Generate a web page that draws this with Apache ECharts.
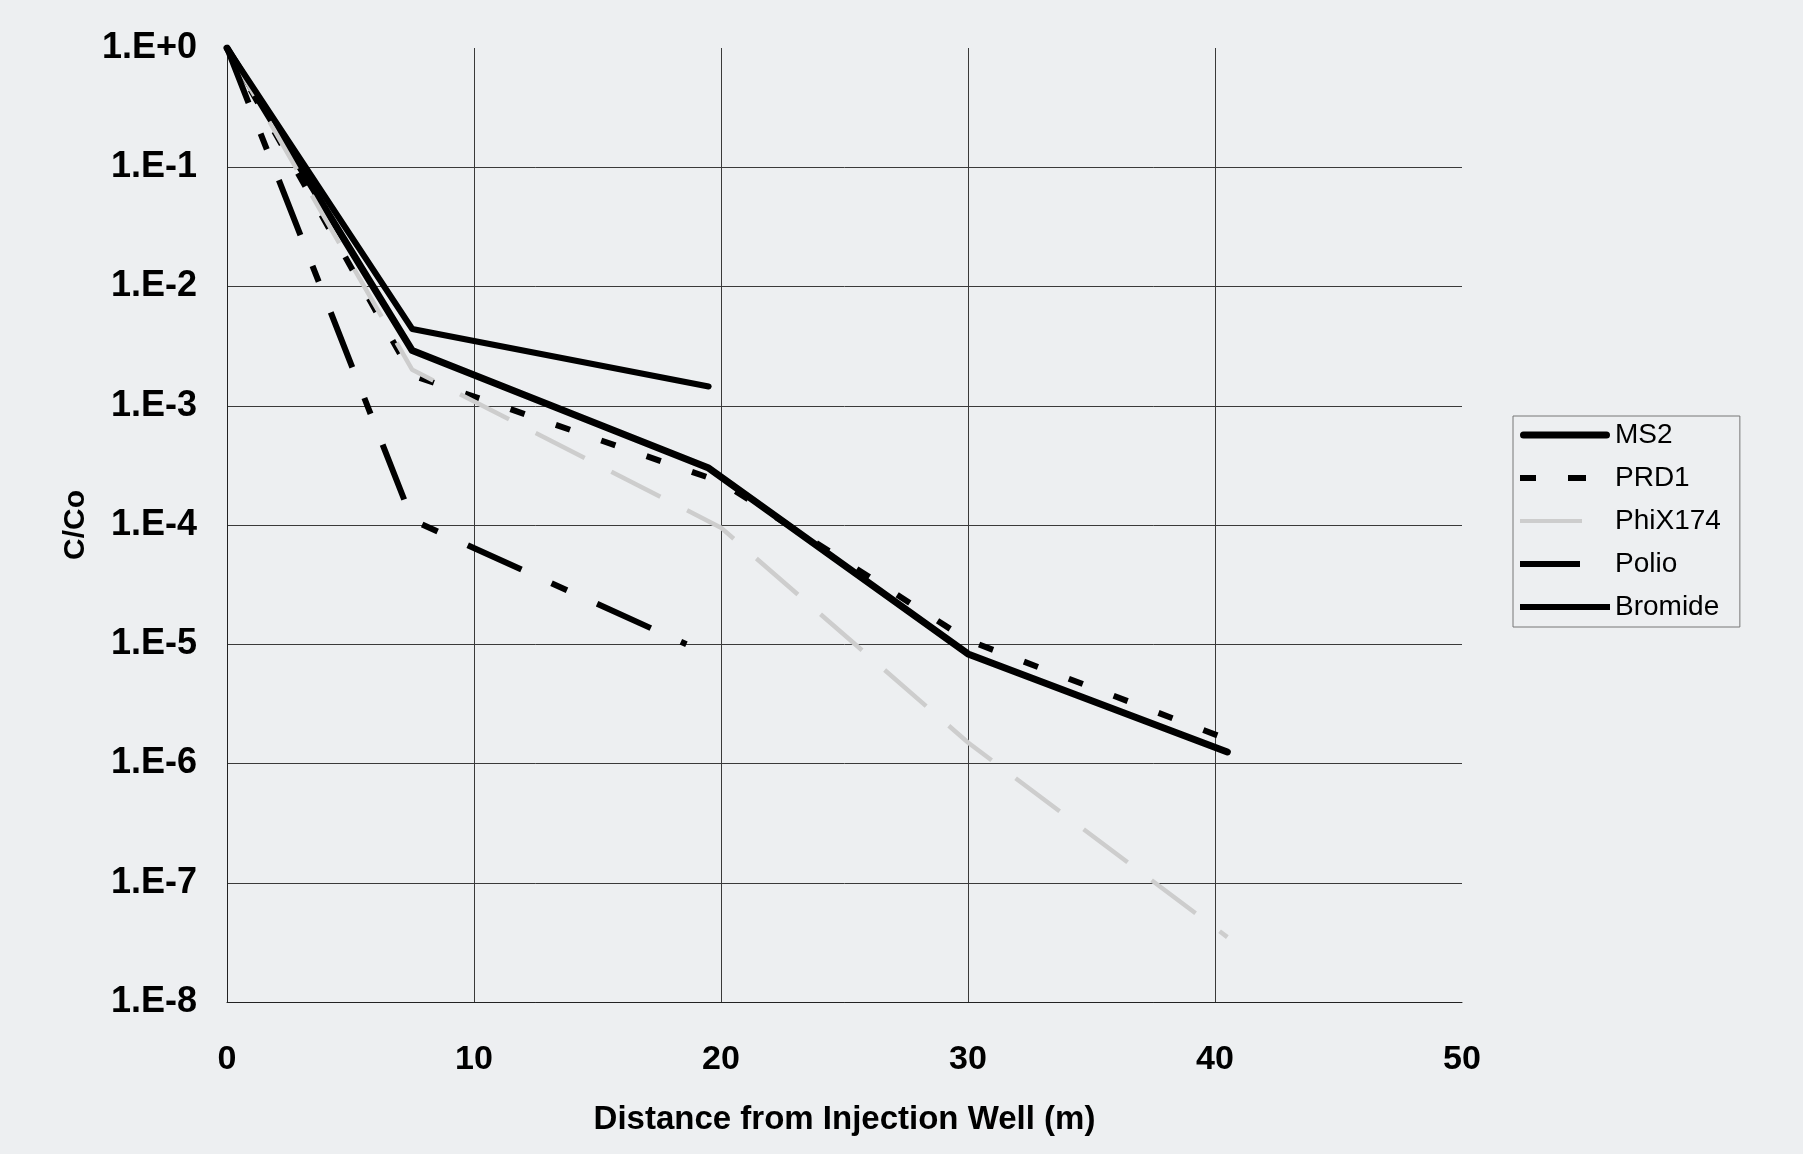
<!DOCTYPE html>
<html>
<head>
<meta charset="utf-8">
<script src="https://cdn.jsdelivr.net/npm/echarts@6/dist/echarts.min.js"></script>
<style>
  html, body { margin: 0; padding: 0; background: #edeff1; }
  #chart { width: 1803px; height: 1154px; }
</style>
</head>
<body>
<div id="chart"></div>
<script>
// ---- data ----
const seriesNames = ['MS2', 'PRD1', 'PhiX174', 'Polio', 'Bromide'];

const ms2X = [0, 7.5, 19.5, 30, 40.5];
const ms2Y = [1, 2.9e-3, 3.0e-4, 8.3e-6, 1.25e-6];

const prd1X = [0, 7.5, 20, 30, 40.5];
const prd1Y = [1, 1.8e-3, 2.3e-4, 1.08e-5, 1.6e-6];

const phiX = [0, 7.5, 20, 30, 40.5];
const phiY = [1, 2.0e-3, 9.5e-5, 1.5e-6, 3.5e-8];

const polioX = [0, 7.5, 18.6];
const polioY = [1, 1.1e-4, 1.0e-5];

const bromideX = [0, 7.5, 19.5];
const bromideY = [1, 4.4e-3, 1.45e-3];

const xTicks = [0, 10, 20, 30, 40, 50];
const yTickLabels = ['1.E-8', '1.E-7', '1.E-6', '1.E-5', '1.E-4', '1.E-3', '1.E-2', '1.E-1', '1.E+0'];

const xTitle = 'Distance from Injection Well (m)';
const yTitle = 'C/Co';

function pairs(xs, ys) { return xs.map((x, i) => [x, ys[i]]); }

const FONT = '"Liberation Sans", Arial, sans-serif';
const chart = echarts.init(document.getElementById('chart'));

const GRID = '#3a3a3a';
const gridColorsX = ['transparent', GRID, GRID, GRID, GRID, 'transparent'];
const gridColorsY = [GRID, GRID, GRID, GRID, GRID, GRID, GRID, GRID, 'transparent'];

// legend icon shapes (bounding box 90 x 7, with tiny corner anchors)
const ANCHOR = ' M0,0 H0.01 V0.01 H0 Z M89.99,6.99 H90 V7 H89.99 Z';
const legendIcons = {
  'MS2': 'path://M3.5,0 H86.5 A3.5,3.5 0 0 1 86.5,7 H3.5 A3.5,3.5 0 0 1 3.5,0 Z' + ANCHOR,
  'PRD1': 'path://M0,0.5 H16 V6.5 H0 Z M48,0.5 H66 V6.5 H48 Z' + ANCHOR,
  'PhiX174': 'path://M0,1.5 H62 V5.5 H0 Z' + ANCHOR,
  'Polio': 'path://M0,0.5 H60 V6.5 H0 Z' + ANCHOR,
  'Bromide': 'path://M0,0.5 H90 V6.5 H0 Z' + ANCHOR
};

function lineSeries(name, data, style, z) {
  return {
    name: name,
    type: 'line',
    data: data,
    symbol: 'none',
    showSymbol: false,
    z: z,
    animation: false,
    itemStyle: { color: style.color },
    lineStyle: style
  };
}

chart.setOption({
  backgroundColor: '#edeff1',
  animation: false,
  grid: { left: 227, right: 341, top: 48, bottom: 152 },
  xAxis: {
    type: 'value',
    min: xTicks[0],
    max: xTicks[xTicks.length - 1],
    interval: 10,
    name: xTitle,
    nameLocation: 'middle',
    nameGap: 101,
    nameTextStyle: { fontFamily: FONT, fontWeight: 'bold', fontSize: 33, color: '#000' },
    axisLine: { lineStyle: { color: '#222', width: 1 } },
    axisTick: { show: false },
    axisLabel: { margin: 41, fontFamily: FONT, fontWeight: 'bold', fontSize: 34, color: '#000' },
    splitLine: { show: true, lineStyle: { color: gridColorsX, width: 1 } }
  },
  yAxis: {
    type: 'log',
    logBase: 10,
    min: 1e-8,
    max: 1,
    name: yTitle,
    nameLocation: 'middle',
    nameGap: 136,
    nameTextStyle: { fontFamily: FONT, fontWeight: 'bold', fontSize: 30, color: '#000' },
    axisLine: { show: true, lineStyle: { color: '#222', width: 1 } },
    axisTick: { show: false },
    axisLabel: {
      margin: 30,
      fontFamily: FONT, fontWeight: 'bold', fontSize: 36, color: '#000',
      formatter: function (v) {
        const e = Math.round(Math.log10(v));
        return yTickLabels[e + 8];
      }
    },
    splitLine: { show: true, lineStyle: { color: gridColorsY, width: 1 } }
  },
  legend: {
    orient: 'vertical',
    left: 1513,
    top: 416,
    padding: [4, 19, 5, 7],
    itemWidth: 90,
    itemHeight: 7,
    itemGap: 13,
    symbolKeepAspect: false,
    borderColor: '#777',
    borderWidth: 1,
    backgroundColor: 'transparent',
    textStyle: { fontFamily: FONT, fontSize: 28, color: '#000', lineHeight: 24, padding: [6, 0, 0, 0] },
    data: seriesNames.map(n => ({ name: n, icon: legendIcons[n] }))
  },
  series: [
    lineSeries(seriesNames[0], pairs(ms2X, ms2Y), { color: '#000', width: 7, type: 'solid', cap: 'round', join: 'round' }, 2),
    lineSeries(seriesNames[1], pairs(prd1X, prd1Y), { color: '#000', width: 6, type: [15, 33], cap: 'butt' }, 3),
    lineSeries(seriesNames[2], pairs(phiX, phiY), { color: '#cdcdcd', width: 4.5, type: [55, 30], cap: 'butt' }, 4),
    lineSeries(seriesNames[3], pairs(polioX, polioY), { color: '#000', width: 6, type: [59, 33, 17, 33], cap: 'butt' }, 5),
    lineSeries(seriesNames[4], pairs(bromideX, bromideY), { color: '#000', width: 6, type: 'solid', cap: 'round', join: 'round' }, 6)
  ]
});
</script>
</body>
</html>
